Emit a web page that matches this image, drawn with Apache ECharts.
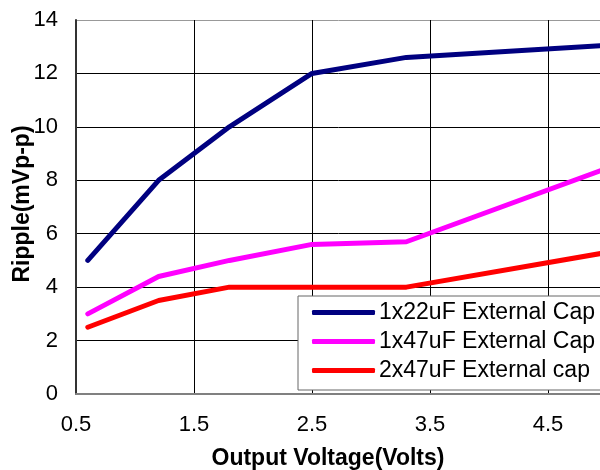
<!DOCTYPE html>
<html lang="en">
<head>
    <meta charset="UTF-8">
    <title>Ripple vs Output Voltage</title>
    <script src="https://cdn.jsdelivr.net/npm/echarts@6/dist/echarts.min.js"></script>
    <style>
        html, body { margin: 0; padding: 0; background: #fff; }
    </style>
</head>
<body>
    <div id="main" style="width: 600px;height:470px;"></div>

    <script type="text/javascript">
        // values
        var voltage = [0.6, 1.2, 1.8, 2.5, 3.3, 5.0];
        var ripple22 = [5.0, 8.0, 10.0, 12.0, 12.6, 13.05];
        var ripple47 = [3.0, 4.4, 5.0, 5.6, 5.7, 8.45];
        var ripple2x47 = [2.5, 3.5, 4.0, 4.0, 4.0, 5.3];
        var seriesNames = ['1x22uF External Cap', '1x47uF External Cap', '2x47uF External cap'];
        var xTicks = [0.5, 1.5, 2.5, 3.5, 4.5];
        var yTicks = [0, 2, 4, 6, 8, 10, 12, 14];

        var font = '"Liberation Sans", Arial, sans-serif';

        function pairs(ys) {
            var res = [];
            for (var i = 0; i < voltage.length; i++) {
                res.push([voltage[i], ys[i]]);
            }
            return res;
        }

        var chart = echarts.init(document.getElementById('main'));

        var option = {
            animation: false,
            backgroundColor: '#fff',
            // the plot runs past the right edge of the picture (x max 5.5 is off-canvas)
            grid: {
                left: 76,
                top: 20,
                height: 374,
                width: 590,
                outerBoundsMode: 'none',
                containLabel: false
            },
            xAxis: {
                type: 'value',
                min: xTicks[0],
                max: 5.5,
                interval: 1,
                axisLine: { show: true, onZero: false, lineStyle: { color: '#808080', width: 2 } },
                axisTick: { show: false },
                axisLabel: {
                    margin: 20,
                    color: '#000',
                    fontSize: 22,
                    fontFamily: font,
                    showMaxLabel: false,
                    formatter: function (v) { return v.toFixed(1); }
                },
                splitLine: { show: true, lineStyle: { color: '#000', width: 1 } }
            },
            yAxis: {
                type: 'value',
                min: yTicks[0],
                max: yTicks[yTicks.length - 1],
                interval: 2,
                axisLine: { show: true, lineStyle: { color: '#333', width: 2 } },
                axisTick: { show: false },
                axisLabel: {
                    margin: 18,
                    color: '#000',
                    fontSize: 22,
                    fontFamily: font
                },
                splitLine: {
                    show: true,
                    lineStyle: {
                        color: ['#000', '#000', '#000', '#000', '#000', '#000', '#000', '#999'],
                        width: 1
                    }
                }
            },
            legend: {
                orient: 'vertical',
                left: 298,
                top: 296,
                padding: [5, 16, 8, 14],
                itemGap: 6,
                itemWidth: 63,
                itemHeight: 5,
                icon: 'roundRect',
                backgroundColor: '#fff',
                borderColor: '#666',
                borderWidth: 1,
                borderRadius: 0,
                textStyle: { color: '#000', fontSize: 23, fontFamily: font, padding: [0, 0, 0, -1] },
                data: seriesNames
            },
            graphic: [
                {
                    type: 'text',
                    x: 328,
                    y: 459,
                    style: {
                        text: 'Output Voltage(Volts)',
                        font: 'bold 23px ' + font,
                        fill: '#000',
                        align: 'center',
                        verticalAlign: 'middle'
                    }
                },
                {
                    type: 'text',
                    x: 23,
                    y: 204,
                    rotation: Math.PI / 2,
                    style: {
                        text: 'Ripple(mVp-p)',
                        font: 'bold 23px ' + font,
                        fill: '#000',
                        align: 'center',
                        verticalAlign: 'middle'
                    }
                }
            ],
            series: [
                {
                    name: seriesNames[0],
                    type: 'line',
                    showSymbol: false,
                    symbol: 'none',
                    color: '#000080',
                    lineStyle: { width: 5, join: 'round', cap: 'round' },
                    data: pairs(ripple22)
                },
                {
                    name: seriesNames[1],
                    type: 'line',
                    showSymbol: false,
                    symbol: 'none',
                    color: '#ff00ff',
                    lineStyle: { width: 5, join: 'round', cap: 'round' },
                    data: pairs(ripple47)
                },
                {
                    name: seriesNames[2],
                    type: 'line',
                    showSymbol: false,
                    symbol: 'none',
                    color: '#ff0000',
                    lineStyle: { width: 5, join: 'round', cap: 'round' },
                    data: pairs(ripple2x47)
                }
            ]
        };

        chart.setOption(option);
    </script>
</body>
</html>
